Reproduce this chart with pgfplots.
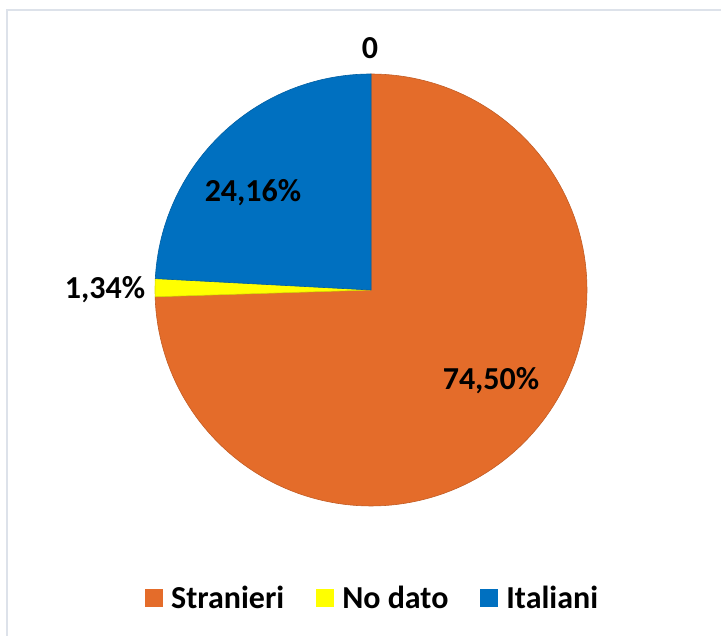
\documentclass[border=0pt]{standalone}
\usepackage{pgfplots}
\pgfplotsset{compat=1.18}
\usepackage{pgfplotstable}
\usepackage{fontspec}
\setmainfont{Carlito}

\definecolor{stranieri}{HTML}{E46C2A}
\definecolor{nodato}{HTML}{FFFF00}
\definecolor{italiani}{HTML}{0070C0}
\definecolor{cornice}{HTML}{DDE2EA}

% quota percentuale per categoria
\pgfplotstableread{
categoria pct
Stranieri 74.50
NoDato 1.34
Italiani 24.16
}\piedata

\pgfplotstablegetelem{0}{pct}\of\piedata \let\pS\pgfplotsretval
\pgfplotstablegetelem{1}{pct}\of\piedata \let\pN\pgfplotsretval
\pgfplotstablegetelem{2}{pct}\of\piedata \let\pI\pgfplotsretval
\pgfmathsetmacro\aS{90-3.6*\pS}
\pgfmathsetmacro\aN{\aS-3.6*\pN}
\pgfmathsetmacro\aI{\aN-3.6*\pI}
\def\cx{371}
\def\cy{346}
\def\r{216}

\begin{document}
\begin{tikzpicture}
\path[use as bounding box] (0,0) rectangle (721pt,636pt);
\begin{axis}[
    at={(0,0)}, anchor=south west,
    scale only axis,
    width=721pt, height=636pt,
    xmin=0, xmax=721,
    ymin=0, ymax=636,
    hide axis,
    clip=false,
    legend columns=3,
    legend cell align=left,
    legend image code/.code={\path[#1,draw=none] (0pt,-9pt) rectangle (18pt,9pt);},
    legend style={
        at={(0.521,0.060)}, anchor=center,
        draw=none, fill=none,
        font=\fontsize{32}{38}\selectfont\bfseries,
        nodes={inner xsep=8.5pt},
        /tikz/every even column/.append style={column sep=23pt},
    },
]
\draw[cornice, line width=1.5pt] (axis cs:7,0) -- (axis cs:7,626) -- (axis cs:721,626);

\addplot[fill=stranieri, draw=stranieri!85!black, line width=0.6pt,
    domain=\aS:90, samples=150, variable=\t]
    ({\cx+\r*cos(t)},{\cy+\r*sin(t)}) -- (axis cs:\cx,\cy) -- cycle;
\addlegendentry{Stranieri}
\addplot[fill=nodato, draw=nodato!85!black, line width=0.6pt,
    domain=\aN:\aS, samples=10, variable=\t]
    ({\cx+\r*cos(t)},{\cy+\r*sin(t)}) -- (axis cs:\cx,\cy) -- cycle;
\addlegendentry{No dato}
\addplot[fill=italiani, draw=italiani!85!black, line width=0.6pt,
    domain=\aI:\aN, samples=80, variable=\t]
    ({\cx+\r*cos(t)},{\cy+\r*sin(t)}) -- (axis cs:\cx,\cy) -- cycle;
\addlegendentry{Italiani}

\begin{scope}[every node/.style={font=\fontsize{32}{38}\selectfont\bfseries, inner sep=0pt}]
\node at (axis cs:370,588) {0};
\node at (axis cs:253,443) {24,16\%};
\node at (axis cs:105,346) {1,34\%};
\node at (axis cs:491,255) {74,50\%};
\end{scope}
\end{axis}
\end{tikzpicture}
\end{document}
